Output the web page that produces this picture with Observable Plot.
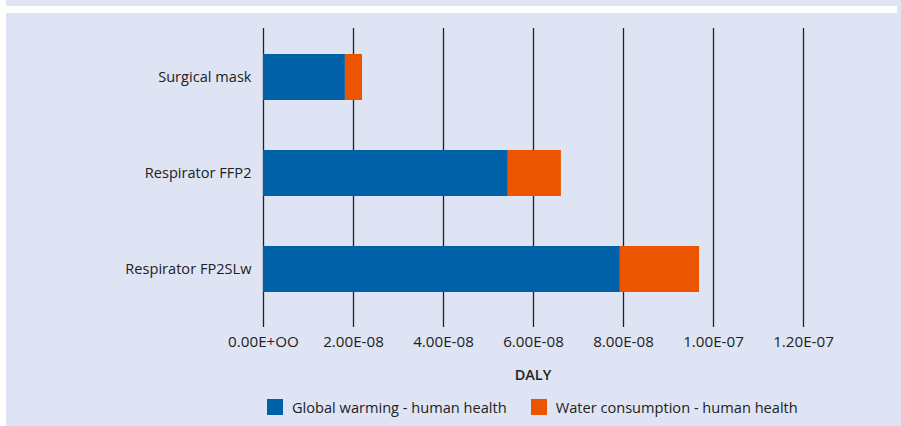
<!DOCTYPE html>
<html>
<head>
<meta charset="utf-8">
<script src="https://cdn.jsdelivr.net/npm/d3@7"></script>
<script src="https://cdn.jsdelivr.net/npm/@observablehq/plot@0.6"></script>
<style>
  html, body { margin: 0; padding: 0; background: #ffffff; }
  body { width: 901px; height: 426px; position: relative; overflow: hidden; font-family: "Open Sans", sans-serif; color: #222; }
  #wrap { position: absolute; left: 6px; top: 0; width: 895px; height: 426px; background: #dfe4f4; }
  #band { position: absolute; left: 0; top: 6px; width: 891px; height: 7px; background: #ffffff; }
  #chart { position: absolute; left: 0; top: 0; }
  #xlabel { position: absolute; top: 365px; left: 257px; width: 540px; text-align: center; font-size: 14.5px; font-weight: 600; color: #222; }
  #legend { position: absolute; top: 397px; left: 261px; display: flex; align-items: center; font-size: 14.6px; color: #222; white-space: nowrap; }
  .item { display: flex; align-items: center; margin-right: 24px; }
  .sw { width: 16px; height: 16px; margin-right: 9px; }
</style>
</head>
<body>
<div id="wrap">
  <div id="band"></div>
  <div id="chart"></div>
  <div id="xlabel"></div>
  <div id="legend"></div>
</div>
<script>
const products = ["Surgical mask", "Respirator FFP2", "Respirator FP2SLw"];
const seriesNames = ["Global warming - human health", "Water consumption - human health"];
const seriesColors = ["#0060a8", "#eb5500"];
const globalWarming = [1.82e-8, 5.44e-8, 7.93e-8];
const waterConsumption = [0.38e-8, 1.18e-8, 1.76e-8];
const tickValues = [0, 2e-8, 4e-8, 6e-8, 8e-8, 1e-7, 1.2e-7];
const tickLabels = ["0.00E+OO", "2.00E-08", "4.00E-08", "6.00E-08", "8.00E-08", "1.00E-07", "1.20E-07"];
const axisTitle = "DALY";

const rows = [];
products.forEach((p, i) => {
  rows.push({product: p, series: seriesNames[0], value: globalWarming[i]});
  rows.push({product: p, series: seriesNames[1], value: waterConsumption[i]});
});

const chart = Plot.plot({
  width: 895,
  height: 426,
  marginLeft: 257,
  marginRight: 98,
  marginTop: 28,
  marginBottom: 99,
  style: { background: "transparent", fontFamily: "Open Sans, sans-serif", fontSize: "14px", color: "#222" },
  x: { domain: [0, 1.2e-7], axis: null },
  y: { domain: products, paddingInner: 0.523, paddingOuter: 0.31, align: 0.42, axis: null },
  color: { domain: seriesNames, range: seriesColors },
  marks: [
    Plot.ruleX(tickValues, { stroke: "#222", strokeWidth: 1.3 }),
    Plot.barX(rows, Plot.stackX({ y: "product", x: "value", fill: "series", order: seriesNames })),
    Plot.axisX({ ticks: tickValues, tickSize: 0, tickPadding: 9, fontSize: 15.2, fill: "#222",
      tickFormat: (d) => tickLabels[tickValues.indexOf(d)], label: null }),
    Plot.axisY({ tickSize: 0, tickPadding: 12, fontSize: 14.6, fill: "#222", label: null })
  ]
});
document.getElementById("chart").appendChild(chart);

document.getElementById("xlabel").textContent = axisTitle;
const legend = document.getElementById("legend");
seriesNames.forEach((name, i) => {
  const item = document.createElement("div");
  item.className = "item";
  const sw = document.createElement("div");
  sw.className = "sw";
  sw.style.background = seriesColors[i];
  const t = document.createElement("span");
  t.textContent = name;
  item.appendChild(sw);
  item.appendChild(t);
  legend.appendChild(item);
});
</script>
</body>
</html>
